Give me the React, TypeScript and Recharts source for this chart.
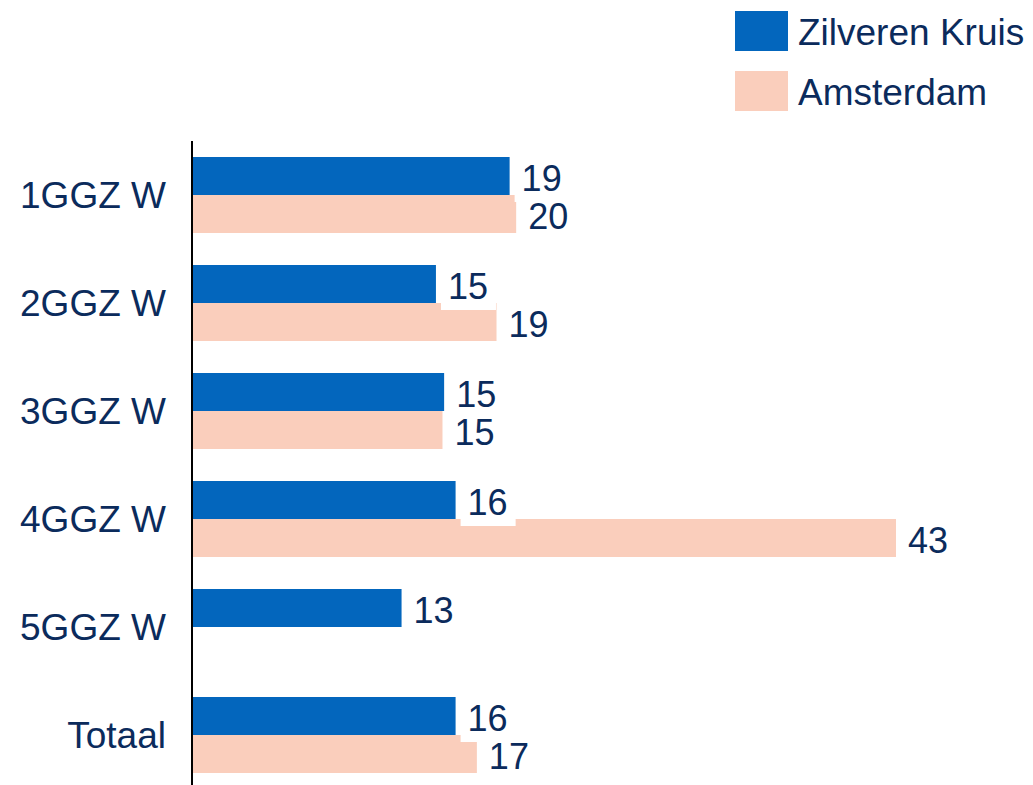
import { BarChart, Bar, XAxis, YAxis, LabelList, Legend } from "recharts";

const categories = ["1GGZ W", "2GGZ W", "3GGZ W", "4GGZ W", "5GGZ W", "Totaal"];
const zilverenKruis = [19.4, 14.9, 15.4, 16.1, 12.8, 16.1];
const amsterdam: (number | null)[] = [19.8, 18.6, 15.3, 43, null, 17.4];
const seriesNames = ["Zilveren Kruis", "Amsterdam"];

const BLUE = "#0366BD";
const PEACH = "#FACEBC";
const TEXT = "#0B2B5C";
const FONT = "'Liberation Sans', Arial, sans-serif";
const FONT_SIZE = 36;
const AXIS_FONT_SIZE = 37;

const data = categories.map((name, i) => ({
  name,
  zk: zilverenKruis[i],
  ams: amsterdam[i],
}));

function ValueLabel(props: any) {
  const { x, y, width, height, value } = props;
  if (value == null) return null;
  const txt = String(Math.round(Number(value)));
  const end = Number(x) + Number(width);
  const cy = Number(y) + Number(height) / 2 + 2;
  const tw = txt.length * 0.556 * FONT_SIZE;
  return (
    <g>
      <rect x={end + 5} y={cy - 24} width={tw + 15} height={48} fill="#fff" />
      <text
        x={end + 12}
        y={cy}
        dominantBaseline="central"
        fontFamily={FONT}
        fontSize={FONT_SIZE}
        fill={TEXT}
      >
        {txt}
      </text>
    </g>
  );
}

function LegendBox() {
  const colors = [BLUE, PEACH];
  return (
    <div style={{ fontFamily: FONT, fontSize: AXIS_FONT_SIZE, color: TEXT }}>
      {seriesNames.map((n, i) => (
        <div key={n} style={{ display: "flex", alignItems: "center", height: 40, marginBottom: i === 0 ? 20 : 0 }}>
          <div style={{ width: 53, height: 40, background: colors[i], marginRight: 10 }} />
          <span style={{ lineHeight: "40px", marginTop: 3, whiteSpace: "nowrap" }}>{n}</span>
        </div>
      ))}
    </div>
  );
}

export default function App() {
  return (
    <div
      style={{
        position: "fixed",
        left: 0,
        top: 0,
        width: 1033,
        height: 785,
        overflow: "hidden",
        background: "#fff",
      }}
    >
      <BarChart
        width={1033}
        height={790}
        data={data}
        layout="vertical"
        margin={{ top: 141, right: 137, bottom: 1, left: 0 }}
        barSize={38}
        barGap={0}
      >
        <XAxis type="number" domain={[0, 43]} hide />
        <YAxis
          type="category"
          dataKey="name"
          width={192}
          tickLine={false}
          tickSize={0}
          tickMargin={26}
          axisLine={{ stroke: "#000", strokeWidth: 2 }}
          tick={{ fontFamily: FONT, fontSize: AXIS_FONT_SIZE, fill: TEXT }}
        />
        <Legend
          layout="vertical"
          align="center"
          verticalAlign="middle"
          wrapperStyle={{ position: "absolute", left: 735, top: 11, width: 300 }}
          content={() => <LegendBox />}
        />
        <Bar dataKey="zk" name={seriesNames[0]} fill={BLUE} isAnimationActive={false}>
          <LabelList dataKey="zk" content={ValueLabel} />
        </Bar>
        <Bar dataKey="ams" name={seriesNames[1]} fill={PEACH} isAnimationActive={false}>
          <LabelList dataKey="ams" content={ValueLabel} />
        </Bar>
      </BarChart>
    </div>
  );
}
